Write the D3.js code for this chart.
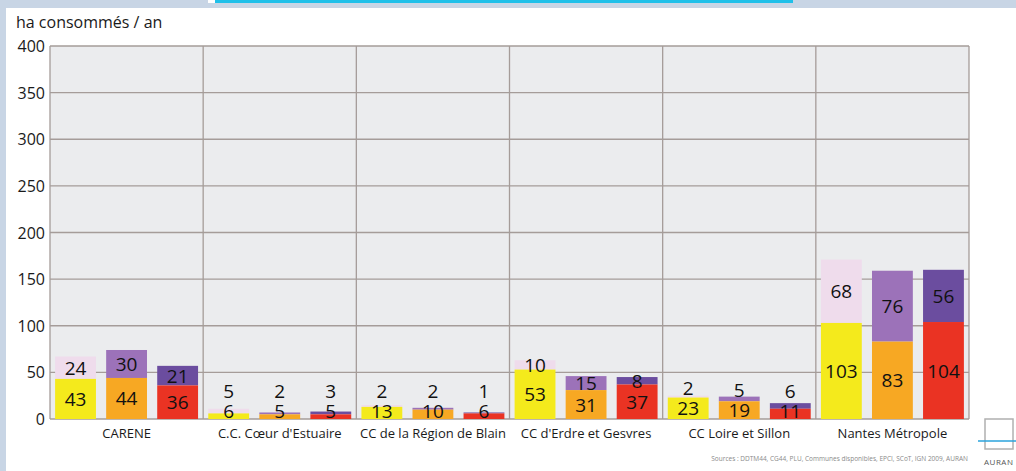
<!DOCTYPE html>
<html>
<head>
<meta charset="utf-8">
<script src="https://cdn.jsdelivr.net/npm/d3@7"></script>
<style>
  body { margin: 0; background: #fff; }
  svg { display: block; font-family: "Open Sans", sans-serif; }
</style>
</head>
<body>
<script>
// data
const categories = ["CARENE", "C.C. Cœur d'Estuaire", "CC de la Région de Blain",
                    "CC d'Erdre et Gesvres", "CC Loire et Sillon", "Nantes Métropole"];
const series = ["s1", "s2", "s3"];
// bottom segment of each bar
const bottom1 = [43, 6, 13, 53, 23, 103];
const bottom2 = [44, 5, 10, 31, 19, 83];
const bottom3 = [36, 5, 6, 37, 11, 104];
// top segment of each bar
const top1 = [24, 5, 2, 10, 2, 68];
const top2 = [30, 2, 2, 15, 5, 76];
const top3 = [21, 3, 1, 8, 6, 56];
const yTicks = [0, 50, 100, 150, 200, 250, 300, 350, 400];

const bottoms = [bottom1, bottom2, bottom3];
const tops = [top1, top2, top3];
const bottomColors = ["#f4ea1c", "#f7a823", "#ea3323"];
const topColors = ["#efdcec", "#9c72b9", "#6b4d9f"];

const W = 1016, H = 471;
const svg = d3.select("body").append("svg")
    .attr("width", W)
    .attr("height", H);

// page decoration (blue frame at left and top)
svg.append("rect").attr("x", 0).attr("y", 0).attr("width", W).attr("height", 8).attr("fill", "#c8d5e5");
svg.append("rect").attr("x", 0).attr("y", 0).attr("width", 6).attr("height", H).attr("fill", "#c8d5e5");
svg.append("rect").attr("x", 208).attr("y", 0).attr("width", 7).attr("height", 3).attr("fill", "#fff");
svg.append("rect").attr("x", 215).attr("y", 0).attr("width", 578).attr("height", 3).attr("fill", "#1fc0e9");

const plotLeft = 50, plotRight = 969, plotTop = 46, plotBase = 419;

const x = d3.scaleBand().domain(categories).range([plotLeft, plotRight]);
const xs = d3.scaleBand().domain(series).range([0, x.bandwidth()])
    .paddingInner(0.2).paddingOuter(0.1);
const y = d3.scaleLinear().domain([0, 400]).range([plotBase, plotTop]);

// plot background
svg.append("rect")
    .attr("x", plotLeft).attr("y", plotTop)
    .attr("width", plotRight - plotLeft).attr("height", plotBase - plotTop)
    .attr("fill", "#ebecee");

// horizontal grid
svg.append("g").selectAll("line")
    .data(yTicks)
    .join("line")
    .attr("x1", plotLeft).attr("x2", plotRight)
    .attr("y1", d => y(d)).attr("y2", d => y(d))
    .attr("stroke", "#a59c99").attr("stroke-width", 1.3);

// vertical separators
svg.append("g").selectAll("line")
    .data(categories.map(c => x(c)).concat([plotRight]))
    .join("line")
    .attr("x1", d => d).attr("x2", d => d)
    .attr("y1", plotTop).attr("y2", plotBase)
    .attr("stroke", "#a59c99").attr("stroke-width", 1.3);

// y tick labels
svg.append("g").selectAll("text")
    .data(yTicks)
    .join("text")
    .attr("x", 45)
    .attr("y", d => y(d) + 6)
    .attr("text-anchor", "end")
    .attr("font-size", 16)
    .attr("fill", "#1a1a1a")
    .text(d => d);

svg.append("text")
    .attr("x", 16).attr("y", 28)
    .attr("font-size", 16)
    .attr("fill", "#1a1a1a")
    .text("ha consommés / an");

// bars
const bars = [];
categories.forEach((c, i) => {
    series.forEach((s, j) => {
        bars.push({ cat: c, s: s, j: j, b: bottoms[j][i], t: tops[j][i] });
    });
});

const g = svg.append("g");
bars.forEach(d => {
    const bx = x(d.cat) + xs(d.s);
    const bw = xs.bandwidth();
    g.append("rect")
        .attr("x", bx).attr("width", bw)
        .attr("y", y(d.b + d.t)).attr("height", y(d.b) - y(d.b + d.t))
        .attr("fill", topColors[d.j]);
    g.append("rect")
        .attr("x", bx).attr("width", bw)
        .attr("y", y(d.b)).attr("height", y(0) - y(d.b))
        .attr("fill", bottomColors[d.j]);

    // small stacks: push labels up so they stay readable
    const yb = Math.min(y(d.b / 2), plotBase - 8);
    const yt = Math.min(y(d.b + d.t / 2), yb - 20);
    g.append("text")
        .attr("x", bx + bw / 2).attr("y", yb + 7)
        .attr("text-anchor", "middle")
        .attr("font-size", 19)
        .attr("fill", "#111")
        .text(d.b);
    g.append("text")
        .attr("x", bx + bw / 2).attr("y", yt + 7)
        .attr("text-anchor", "middle")
        .attr("font-size", 19)
        .attr("fill", "#111")
        .text(d.t);
});

// category labels
svg.append("g").selectAll("text")
    .data(categories)
    .join("text")
    .attr("x", d => x(d) + x.bandwidth() / 2)
    .attr("y", 438)
    .attr("text-anchor", "middle")
    .attr("font-size", 13)
    .attr("fill", "#1a1a1a")
    .text(d => d);

// source
svg.append("text")
    .attr("x", 968).attr("y", 461)
    .attr("text-anchor", "end")
    .attr("font-size", 6.5)
    .attr("fill", "#8a8a8a")
    .text("Sources : DDTM44, CG44, PLU, Communes disponibles, EPCI, SCoT, IGN 2009, AURAN");

// logo corner
svg.append("rect").attr("x", 985).attr("y", 419).attr("width", 28).attr("height", 30)
    .attr("fill", "none").attr("stroke", "#b0b0b0").attr("stroke-width", 1.5);
svg.append("line").attr("x1", 978).attr("x2", W).attr("y1", 441).attr("y2", 441)
    .attr("stroke", "#2aa3dc").attr("stroke-width", 1.5);
svg.append("text")
    .attr("x", 984).attr("y", 465)
    .attr("font-size", 8).attr("letter-spacing", 0.5)
    .attr("fill", "#555")
    .text("AURAN");
</script>
</body>
</html>
